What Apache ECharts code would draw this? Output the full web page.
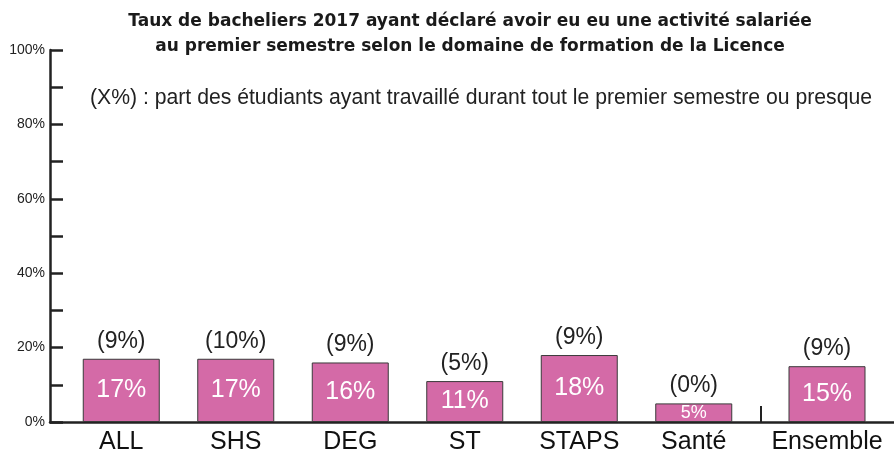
<!DOCTYPE html>
<html><head><meta charset="utf-8">
<script src="https://cdn.jsdelivr.net/npm/echarts@6/dist/echarts.min.js"></script>
<style>html,body{margin:0;padding:0;background:#fff}#c{width:894px;height:456px}</style>
</head><body><div id="c"></div>
<script>
const titleLines = ['Taux de bacheliers 2017 ayant déclaré avoir eu eu une activité salariée', 'au premier semestre selon le domaine de formation de la Licence'];
const noteText = '(X%) : part des étudiants ayant travaillé durant tout le premier semestre ou presque';
const categories = ['ALL', 'SHS', 'DEG', 'ST', 'STAPS', 'Santé'];
const values = [17, 17, 16, 11, 18, 5];
const fullTimeShares = [9, 10, 9, 5, 9, 0];
const totalCategory = ['Ensemble'];
const totalValues = [15];
const totalFullTime = [9];
const yMin = 0, yMax = 100, yTickStep = 10, yLabelStep = 20;

const FONT = '"Liberation Sans", Arial, sans-serif';
const barColor = '#d46aa7';
const chart = echarts.init(document.getElementById('c'), null, {renderer: 'canvas'});

function insideLabel(v) {
  return {
    value: v,
    label: { fontSize: v < 8 ? 18 : 25 }
  };
}
function barSeries(xi, vals, shares) {
  return [
    {
      type: 'bar', xAxisIndex: xi, yAxisIndex: xi, barWidth: 77,
      data: vals.map(insideLabel),
      itemStyle: { color: barColor, borderColor: '#3a3a3a', borderWidth: 1 },
      label: { show: true, position: 'inside', color: '#fff', fontFamily: FONT, formatter: p => p.value + '%' },
      silent: true, z: 2
    },
    {
      type: 'bar', xAxisIndex: xi, yAxisIndex: xi, barWidth: 77, barGap: '-100%',
      data: vals,
      itemStyle: { color: 'rgba(0,0,0,0)' },
      label: { show: true, position: 'top', distance: 6, color: '#222', fontSize: 23, fontFamily: FONT,
        formatter: p => '(' + shares[p.dataIndex] + '%)' },
      silent: true, z: 3
    }
  ];
}
const hiddenY = { type: 'value', min: yMin, max: yMax, show: false };
const catX = (gi, data) => ({
  type: 'category', gridIndex: gi, data: data,
  axisLine: { show: false }, axisTick: { show: false },
  axisLabel: { color: '#111', fontSize: 25, fontFamily: FONT, margin: 8 }
});

chart.setOption({
  animation: false,
  title: [
    { text: titleLines.join('\n'), left: 465, top: 4, textAlign: 'center',
      textStyle: { fontFamily: '"DejaVu Sans", sans-serif', fontWeight: 'bold', fontSize: 17, lineHeight: 25, color: '#1a1a1a' } },
    { text: noteText, left: 476, top: 83, textAlign: 'center',
      textStyle: { fontFamily: FONT, fontWeight: 'normal', fontSize: 21.2, color: '#222' } }
  ],
  grid: [
    { left: 64, right: 143, top: 50, bottom: 34 },
    { left: 771, right: 11, top: 50, bottom: 34 },
    { left: 50, right: 0, top: 50, bottom: 34 }
  ],
  xAxis: [
    catX(0, categories),
    catX(1, totalCategory),
    { type: 'value', gridIndex: 2, min: 0, max: 1, axisLine: { show: true, onZero: false, lineStyle: { color: '#222', width: 2.5 } },
      axisTick: { show: false }, axisLabel: { show: false }, splitLine: { show: false } }
  ],
  yAxis: [
    Object.assign({ gridIndex: 0 }, hiddenY),
    Object.assign({ gridIndex: 1 }, hiddenY),
    { type: 'value', gridIndex: 2, min: yMin, max: yMax, interval: yTickStep,
      axisLine: { show: true, lineStyle: { color: '#222', width: 2.5 } },
      axisTick: { show: true, inside: true, length: 13, lineStyle: { color: '#222', width: 2.5 } },
      splitLine: { show: false },
      axisLabel: { color: '#222', fontSize: 14, fontFamily: FONT, margin: 5,
        formatter: v => (v % yLabelStep === 0 ? v + '%' : '') } }
  ],
  series: [].concat(barSeries(0, values, fullTimeShares), barSeries(1, totalValues, totalFullTime)),
  graphic: [
    { type: 'line', shape: { x1: 761, y1: 406, x2: 761, y2: 422 }, style: { stroke: '#222', lineWidth: 2 }, z: 10 }
  ]
});
</script></body></html>
